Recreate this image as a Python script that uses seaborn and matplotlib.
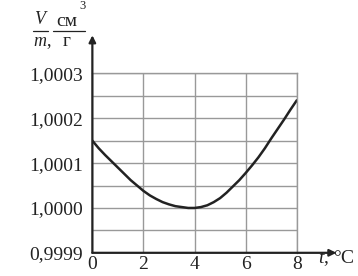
import matplotlib
matplotlib.use('Agg')
import matplotlib.pyplot as plt
import seaborn as sns
import pandas as pd

# temperature, deg C
t = [0, 0.25, 0.5, 0.75, 1, 1.25, 1.5, 1.75, 2, 2.25, 2.5, 2.75, 3, 3.25,
     3.5, 3.75, 4, 4.25, 4.5, 4.75, 5, 5.25, 5.5, 5.75, 6, 6.25, 6.5, 6.75,
     7, 7.25, 7.5, 7.75, 8]
# specific volume V/m, cm^3/g
v = [1.000150, 1.000133, 1.000118, 1.000104, 1.000090, 1.000076, 1.000062,
     1.000050, 1.000038, 1.000028, 1.000020, 1.000013, 1.000008, 1.000004,
     1.000002, 1.000000, 1.000000, 1.000002, 1.000006, 1.000013, 1.000022,
     1.000034, 1.000048, 1.000062, 1.000078, 1.000095, 1.000113, 1.000133,
     1.000155, 1.000176, 1.000197, 1.000219, 1.000240]
xticks = [0, 2, 4, 6, 8]
yticks = [0.9999, 1.0000, 1.0001, 1.0002, 1.0003]
ytick_labels = ['0,9999', '1,0000', '1,0001', '1,0002', '1,0003']

df = pd.DataFrame({'t': t, 'v': v})

sns.set_style('white')
plt.rcParams['font.family'] = ['Liberation Serif', 'DejaVu Serif']
plt.rcParams['mathtext.fontset'] = 'custom'
plt.rcParams['mathtext.rm'] = 'Liberation Serif'
plt.rcParams['mathtext.it'] = 'Liberation Serif:italic'

fig = plt.figure(figsize=(3.58, 2.76), dpi=100)
ax = fig.add_axes([0.258, 0.084, 0.571, 0.650])

sns.lineplot(data=df, x='t', y='v', ax=ax, color='#222222', linewidth=1.8)

ax.set_xlim(0, 8)
ax.set_ylim(0.9999, 1.0003)
ax.set_xticks(xticks)
ax.set_xticklabels([str(x) for x in xticks])
ax.set_yticks(yticks)
ax.set_yticklabels(ytick_labels)
ax.set_yticks([0.99995, 1.00005, 1.00015, 1.00025], minor=True)
ax.grid(True, which='both', color='#999999', linewidth=1.0)
ax.tick_params(axis='both', length=0, labelsize=14, colors='#222222')
ax.tick_params(axis='x', pad=2)
ax.tick_params(axis='y', pad=7)
ax.set_xlabel('')
ax.set_ylabel('')
for side in ['top', 'right']:
    ax.spines[side].set_color('#999999')
    ax.spines[side].set_linewidth(1.0)
for side in ['left', 'bottom']:
    ax.spines[side].set_visible(False)

# axes with arrows
ax.annotate('', xy=(0, 1.000385), xytext=(0, 0.9999), annotation_clip=False,
            arrowprops=dict(arrowstyle='-|>', color='#222222', lw=1.6,
                            mutation_scale=10, shrinkA=0, shrinkB=0))
ax.annotate('', xy=(9.55, 0.9999), xytext=(0, 0.9999), annotation_clip=False,
            arrowprops=dict(arrowstyle='-|>', color='#222222', lw=1.6,
                            mutation_scale=10, shrinkA=0, shrinkB=0))

fig.text(0.888, 0.048, r'$t$, °C', fontsize=14, color='#222222')

# y-axis label drawn as two stacked fractions: V/m, см³/г
W, H = 358, 276
def fx(px):
    return px / W
def fy(py):
    return 1 - py / H
lab = dict(color='#222222', ha='center', va='center')
fig.text(fx(40), fy(20), 'V', fontsize=13, style='italic', **lab)
fig.text(fx(40), fy(41), 'm', fontsize=13, style='italic', **lab)
fig.text(fx(49), fy(41), ',', fontsize=13, **lab)
fig.text(fx(67), fy(21), 'см', fontsize=14, **lab)
fig.text(fx(82), fy(6), '3', fontsize=9, **lab)
fig.text(fx(67), fy(42), 'г', fontsize=14, **lab)
fig.add_artist(plt.Line2D([fx(33), fx(48)], [fy(31), fy(31)],
                          color='#222222', lw=0.9))
fig.add_artist(plt.Line2D([fx(53), fx(85)], [fy(31), fy(31)],
                          color='#222222', lw=0.9))

fig.savefig('out.png', dpi=100)
